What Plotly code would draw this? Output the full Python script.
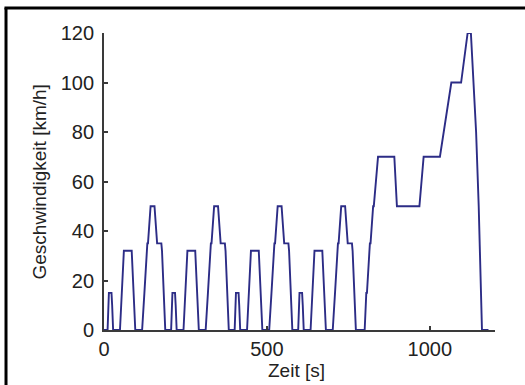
import plotly.graph_objects as go

# NEDC driving cycle: ECE-15 urban cycle (repeated 4x) + EUDC, vertices of the speed profile
ece_t = [0, 11, 15, 23, 25, 28, 49, 54, 56, 61, 85, 93, 96, 117, 122, 124, 133, 135,
         143, 155, 163, 176, 178, 185, 188, 195]
ece_v = [0, 0, 15, 15, 10, 0, 0, 15, 15, 32, 32, 10, 0, 0, 15, 15, 35, 35,
         50, 50, 35, 35, 32, 10, 0, 0]
eudc_t = [0, 20, 25, 27, 36, 38, 46, 48, 61, 111, 119, 188, 201, 251, 286, 316,
          336, 346, 362, 370, 380, 400]
eudc_v = [0, 0, 15, 15, 35, 35, 50, 50, 70, 70, 50, 50, 70, 70, 100, 100,
          120, 120, 80, 50, 0, 0]
ece_starts = [0, 195, 390, 585]
eudc_start = 780

x_ticks = [0, 500, 1000]
y_ticks = [0, 20, 40, 60, 80, 100, 120]

t, v = [], []
for s in ece_starts:
    t += [s + a for a in ece_t]
    v += list(ece_v)
t += [eudc_start + a for a in eudc_t]
v += list(eudc_v)

fig = go.Figure()
fig.add_trace(go.Scatter(x=t, y=v, mode="lines",
                         line=dict(color="#2c2c86", width=1.9),
                         hoverinfo="skip", showlegend=False))

FONT = "Liberation Sans, Arial, sans-serif"
axis_common = dict(showgrid=False, zeroline=False, showline=True, linecolor="#3a3a3a",
                   linewidth=1.8, ticks="inside", ticklen=4, tickwidth=1.5,
                   tickcolor="#3a3a3a", mirror=False,
                   tickfont=dict(family=FONT, size=20, color="#222222"))

fig.update_layout(
    width=525, height=385,
    margin=dict(l=104, r=30, t=33, b=55),
    paper_bgcolor="white", plot_bgcolor="white",
    xaxis=dict(range=[0, 1200], tickvals=x_ticks, ticktext=[str(a) for a in x_ticks],
               **axis_common),
    yaxis=dict(range=[0, 120], tickvals=y_ticks, ticktext=[str(a) for a in y_ticks],
               ticklabelstandoff=4, **axis_common),
    annotations=[
        dict(text="Zeit [s]", xref="paper", yref="paper", x=0.4936, y=-0.135,
             xanchor="center", yanchor="middle", showarrow=False,
             font=dict(family=FONT, size=19, color="#222222")),
        dict(text="Geschwindigkeit [km/h]", xref="paper", yref="paper", x=-0.1637, y=0.5,
             xanchor="center", yanchor="middle", showarrow=False, textangle=-90,
             font=dict(family=FONT, size=19, color="#222222")),
    ],
    shapes=[
        dict(type="line", xref="paper", yref="paper", x0=-0.2506, x1=-0.2506,
             y0=1.085, y1=-0.25, line=dict(color="black", width=3)),
        dict(type="line", xref="paper", yref="paper", x0=-0.2545, x1=1.1,
             y0=1.0843, y1=1.0843, line=dict(color="black", width=3)),
    ],
)

fig.write_html("out.html", config={"displayModeBar": False},
               post_script="document.body.style.margin='0';document.body.style.padding='0';"
                           "document.body.style.overflow='hidden';")
